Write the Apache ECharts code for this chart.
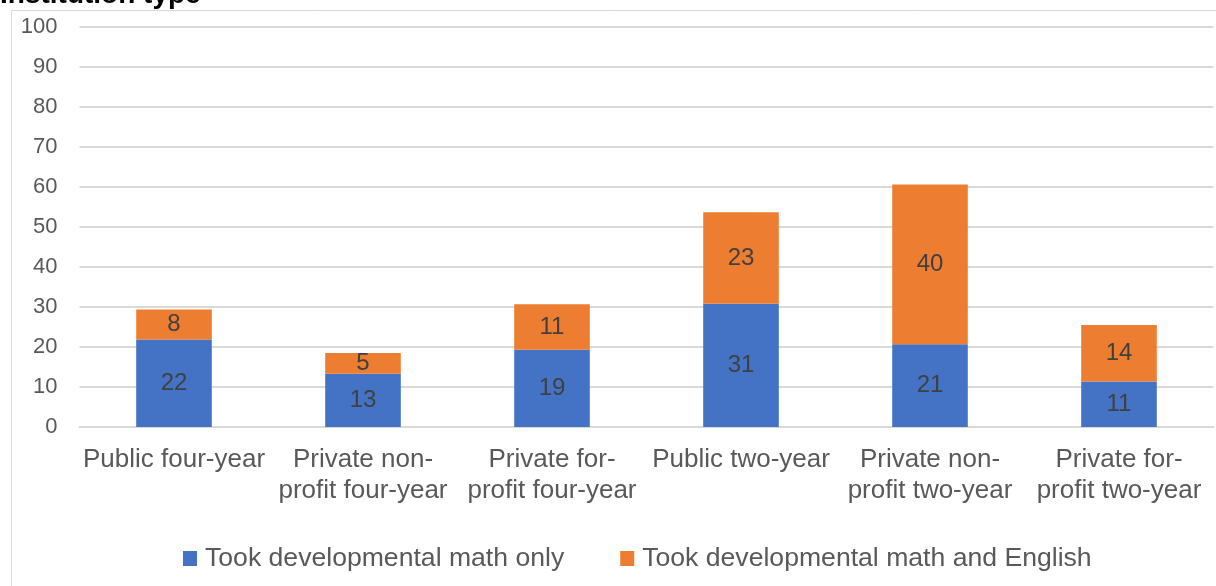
<!DOCTYPE html>
<html><head><meta charset="utf-8">
<script src="https://cdn.jsdelivr.net/npm/echarts@6/dist/echarts.min.js"></script>
<style>html,body{margin:0;padding:0;background:#fff}#c{width:1216px;height:586px}</style>
</head><body><div id="c"></div>
<script>
const categories = ['Public four-year', 'Private non-\nprofit four-year', 'Private for-\nprofit four-year', 'Public two-year', 'Private non-\nprofit two-year', 'Private for-\nprofit two-year'];
const mathOnly = [21.9, 13.3, 19.3, 30.8, 20.7, 11.4];
const mathEnglish = [7.5, 5.2, 11.4, 22.9, 39.9, 14.1];
const seriesNames = ['Took developmental math only', 'Took developmental math and English'];
const yTicks = { min: 0, max: 100, interval: 10 };
const titleText = 'Institution type';

const font = 'Liberation Sans, Arial, sans-serif';
const chart = echarts.init(document.getElementById('c'), null, { renderer: 'canvas' });
const lbl = { show: true, position: 'inside', color: '#404040', fontSize: 24, fontFamily: font, formatter: p => Math.round(p.value) };
chart.setOption({
  animation: false,
  graphic: [
    { type: 'rect', shape: { x: 11.5, y: 10.5, width: 1300, height: 700 }, style: { fill: 'none', stroke: '#d9d9d9', lineWidth: 1 }, silent: true },
    { type: 'text', x: 0, y: -19, style: { text: titleText, font: 'bold 28px Liberation Sans, Arial, sans-serif', fill: '#000', verticalAlign: 'top' }, silent: true }
  ],
  grid: { left: 79.5, right: 2.5, top: 27, bottom: 159, containLabel: false },
  legend: {
    top: 545, left: 183, padding: 0, itemGap: 56, icon: 'rect', itemWidth: 14, itemHeight: 15,
    textStyle: { color: '#595959', fontSize: 26.6, fontFamily: font, padding: [0, 0, 0, 3] },
    data: seriesNames
  },
  xAxis: {
    type: 'category', data: categories,
    axisLine: { lineStyle: { color: '#d9d9d9', width: 2 } }, axisTick: { show: false },
    axisLabel: { color: '#595959', fontSize: 26, fontFamily: font, lineHeight: 31, margin: 17, interval: 0 }
  },
  yAxis: {
    type: 'value', min: yTicks.min, max: yTicks.max, interval: yTicks.interval,
    axisLine: { show: false }, axisTick: { show: false },
    axisLabel: { color: '#595959', fontSize: 22, fontFamily: font, margin: 22 },
    splitLine: { lineStyle: { color: '#d9d9d9', width: 2 } }
  },
  series: [
    { name: seriesNames[0], type: 'bar', stack: 't', data: mathOnly, barWidth: '40%', itemStyle: { color: '#4472c4' }, label: lbl },
    { name: seriesNames[1], type: 'bar', stack: 't', data: mathEnglish, barWidth: '40%', itemStyle: { color: '#ed7d31' }, label: lbl }
  ]
});
</script></body></html>
